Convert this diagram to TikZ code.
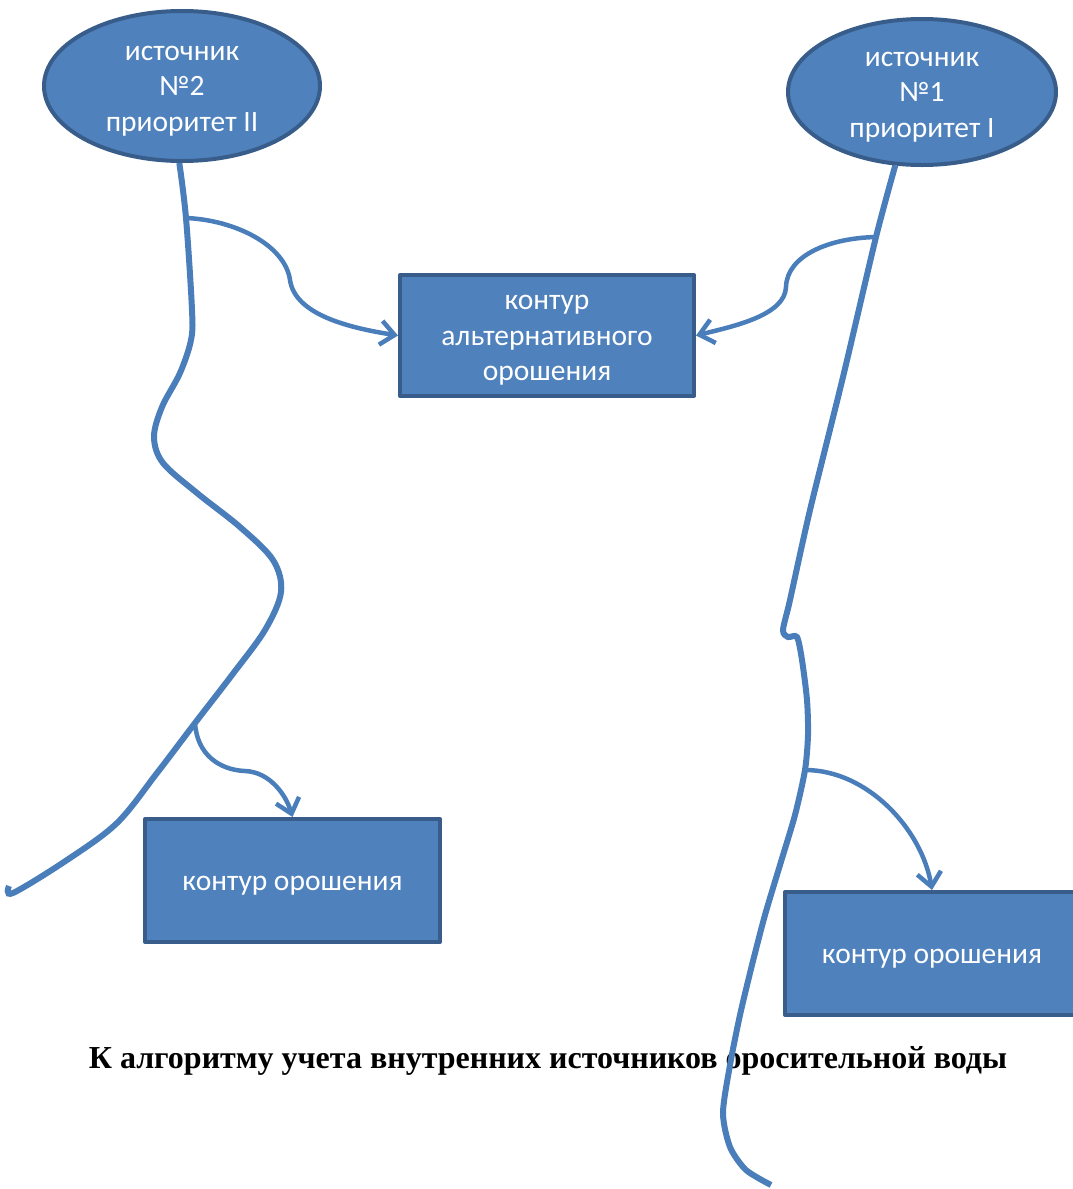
\documentclass[tikz,border=0pt]{standalone}
\usepackage{fontspec}
\setmainfont{Carlito}
\newfontfamily\capfont{Liberation Serif}
\usetikzlibrary{shapes.geometric,arrows.meta,backgrounds}
\definecolor{fillblue}{HTML}{4F81BD}
\definecolor{edgeblue}{HTML}{385D8A}
\definecolor{pipeblue}{HTML}{4A7EBB}
\begin{document}
\begin{tikzpicture}[x=1pt,y=-1pt,line join=round,line cap=round]
	\tikzset{source/.style={ellipse,draw=edgeblue,fill=fillblue,line width=4pt,text=white,align=center,inner sep=0pt,text height=95pt,font=\fontsize{29.5}{35.5}\selectfont},
		contour/.style={rectangle,draw=edgeblue,fill=fillblue,line width=4pt,text=white,align=center,inner sep=0pt,text height=25pt,font=\fontsize{29.5}{35.5}\selectfont},
		pipe/.style={draw=pipeblue,line width=6pt},
		feed/.style={draw=pipeblue,line width=4.5pt,-{Straight Barb[length=14pt,width=24pt]}}}
	\useasboundingbox (0,0) rectangle (1073,1189);
	\clip (0,0) rectangle (1073,1189);
	% sources and contours
	\node[source,minimum width=276pt,minimum height=150pt] (src2) at (182,86) {источник\\№2\\приоритет II};
	\node[source,minimum width=268pt,minimum height=146pt] (src1) at (922,92) {источник\\№1\\приоритет I};
	\node[contour,text height=95pt,minimum width=294pt,minimum height=121pt] (alt) at (547,335.5) {контур\\альтернативного\\орошения};
	\node[contour,minimum width=295pt,minimum height=123pt] (irr2) at (292.5,880.5) {контур орошения};
	\node[contour,minimum width=294pt,minimum height=123pt] (irr1) at (932,953.5) {контур орошения};
	% branch points
	\coordinate (b2) at (186,218);
	\coordinate (b3) at (195,723);
	\coordinate (b1) at (876,237);
	\coordinate (b4) at (805,770);
	\begin{pgfonlayer}{background}
		\node[font=\capfont\bfseries\fontsize{32}{38}\selectfont,anchor=base,inner sep=0pt] (caption) at (548,1068) {К алгоритму учета внутренних источников оросительной воды};
		% pipes
		\draw[pipe] plot[smooth,tension=0.55] coordinates {(src2.268) (b2) (192,310) (191,340) (180,373) (162,407) (154,437) (163,463) (197,493) (240,527) (273,560) (281,592) (265,630) (232,675) (b3) (157,773) (117,823) (67,860) (13,893) (9,886)};
		\draw[pipe] plot[smooth,tension=0.45] coordinates {(src1.250) (b1) (843,377) (810,510) (790,600) (783,630) (788,637) (797,637) (802,660) (807,700) (808,735) (b4) (795,815) (780,865) (765,915) (752,965) (740,1015) (730,1065) (723,1113) (730,1147) (746,1170) (771,1185)};
	\end{pgfonlayer}
	% feeds
	\draw[feed] (b2) .. controls (235,220) and (285,245) .. (290,280) .. controls (295,315) and (350,328) .. (alt.west);
	\draw[feed] (b1) .. controls (830,238) and (787,255) .. (786,287) .. controls (785,315) and (735,326) .. (alt.east);
	\draw[feed] (b3) .. controls (197,755) and (220,770) .. (245,771) .. controls (270,772) and (286,795) .. (irr2.north);
	\draw[feed] (b4) .. controls (868,770) and (922,830) .. (irr1.north);
\end{tikzpicture}
\end{document}
